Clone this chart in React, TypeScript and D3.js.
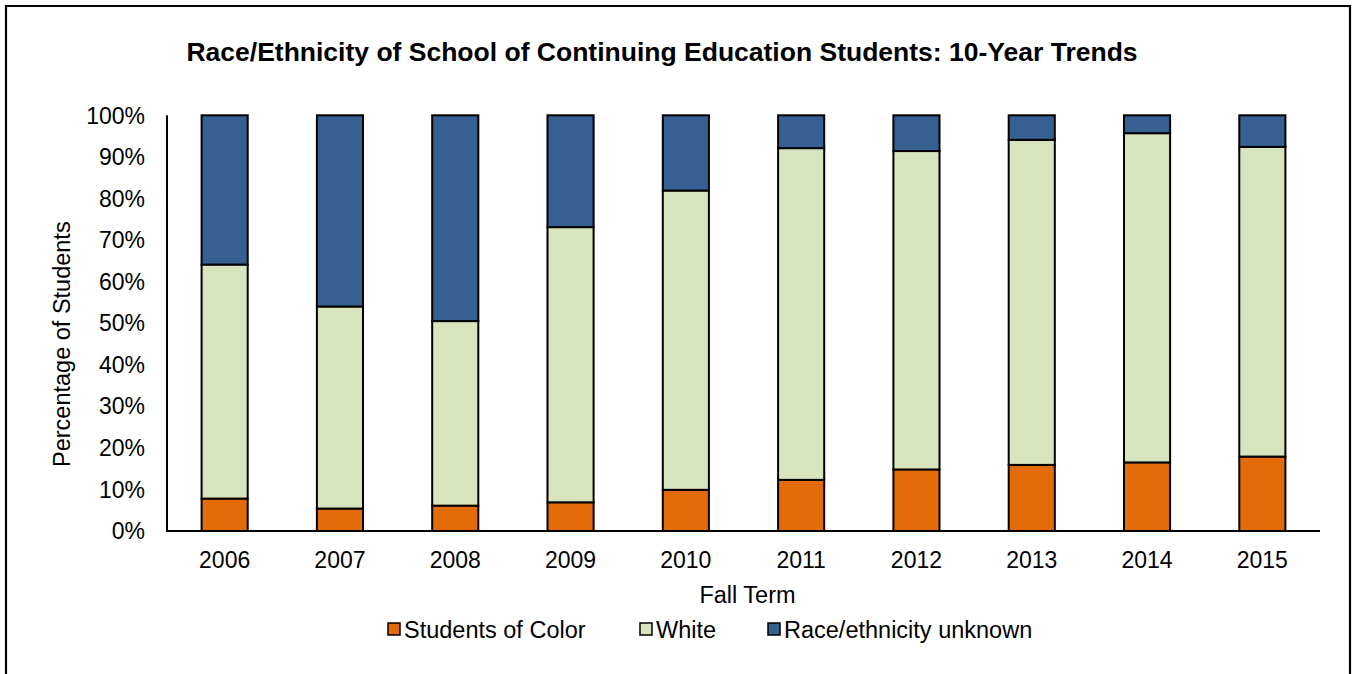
import React from "react";
import * as d3 from "d3";

const years = ["2006", "2007", "2008", "2009", "2010", "2011", "2012", "2013", "2014", "2015"];
const studentsOfColor = [7.8, 5.4, 6.1, 6.9, 9.9, 12.3, 14.8, 15.9, 16.5, 17.9];
const whiteTop = [64.1, 54.0, 50.5, 73.1, 81.9, 92.1, 91.4, 94.1, 95.7, 92.4];
const white = whiteTop.map((t, i) => +(t - studentsOfColor[i]).toFixed(1));
const unknown = whiteTop.map((t) => +(100 - t).toFixed(1));
const yTicks = [0, 10, 20, 30, 40, 50, 60, 70, 80, 90, 100];

const seriesNames = ["Students of Color", "White", "Race/ethnicity unknown"];
const seriesColors = ["#E36C09", "#D7E4BD", "#376092"];

const W = 1352;
const H = 674;
const plot = { left: 167, right: 1320, top: 115.3, bottom: 531 };
const font = "'Liberation Sans', Arial, sans-serif";

export default function App() {
  const x = d3
    .scaleBand<string>()
    .domain(years)
    .range([plot.left, plot.right])
    .paddingInner(0.6)
    .paddingOuter(0.3);
  const y = d3.scaleLinear().domain([0, 100]).range([plot.bottom, plot.top]);

  const table = years.map((yr, i) => ({
    year: yr,
    "Students of Color": studentsOfColor[i],
    White: white[i],
    "Race/ethnicity unknown": unknown[i],
  }));
  const stacked = d3.stack<any>().keys(seriesNames)(table);

  const legendItems = [
    { name: seriesNames[0], x: 388 },
    { name: seriesNames[1], x: 640 },
    { name: seriesNames[2], x: 768 },
  ];

  return (
    <svg
      width={W}
      height={H}
      style={{ position: "absolute", left: 0, top: 0, background: "#fff" }}
      fontFamily={font}
    >
      <rect x={0} y={0} width={W} height={H} fill="#fff" />
      <path d={`M6,${H + 5} V6 H1350 V${H + 5}`} fill="none" stroke="#000" strokeWidth={2.2} />

      <text x={662} y={61} textAnchor="middle" fontSize={26.5} fontWeight="bold" fill="#000">
        Race/Ethnicity of School of Continuing Education Students: 10-Year Trends
      </text>

      {yTicks.map((t) => (
        <text key={t} x={145} y={y(t) + 8.2} textAnchor="end" fontSize={23} fill="#000">
          {t}%
        </text>
      ))}

      {stacked.map((s, si) =>
        s.map((d, i) => (
          <rect
            key={`${si}-${i}`}
            x={x(years[i])!}
            y={y(d[1])}
            width={x.bandwidth()}
            height={y(d[0]) - y(d[1])}
            fill={seriesColors[si]}
            stroke="#000"
            strokeWidth={2}
          />
        ))
      )}

      <line x1={plot.left} x2={plot.left} y1={plot.top} y2={plot.bottom} stroke="#000" strokeWidth={2} />
      <line x1={plot.left - 1} x2={plot.right} y1={plot.bottom} y2={plot.bottom} stroke="#000" strokeWidth={2} />

      {years.map((yr) => (
        <text
          key={yr}
          x={x(yr)! + x.bandwidth() / 2}
          y={568}
          textAnchor="middle"
          fontSize={23}
          fill="#000"
        >
          {yr}
        </text>
      ))}

      <text x={(plot.left + plot.right) / 2 + 4} y={603} textAnchor="middle" fontSize={23.5} fill="#000">
        Fall Term
      </text>

      <text
        transform={`translate(70, ${(plot.top + plot.bottom) / 2 + 21}) rotate(-90)`}
        textAnchor="middle"
        fontSize={23.5}
        fill="#000"
      >
        Percentage of Students
      </text>

      {legendItems.map((it, i) => (
        <g key={it.name}>
          <rect x={it.x} y={623} width={12} height={12} fill={seriesColors[i]} stroke="#000" strokeWidth={1.5} />
          <text x={it.x + 16} y={638} fontSize={23.5} fill="#000">
            {it.name}
          </text>
        </g>
      ))}
    </svg>
  );
}
